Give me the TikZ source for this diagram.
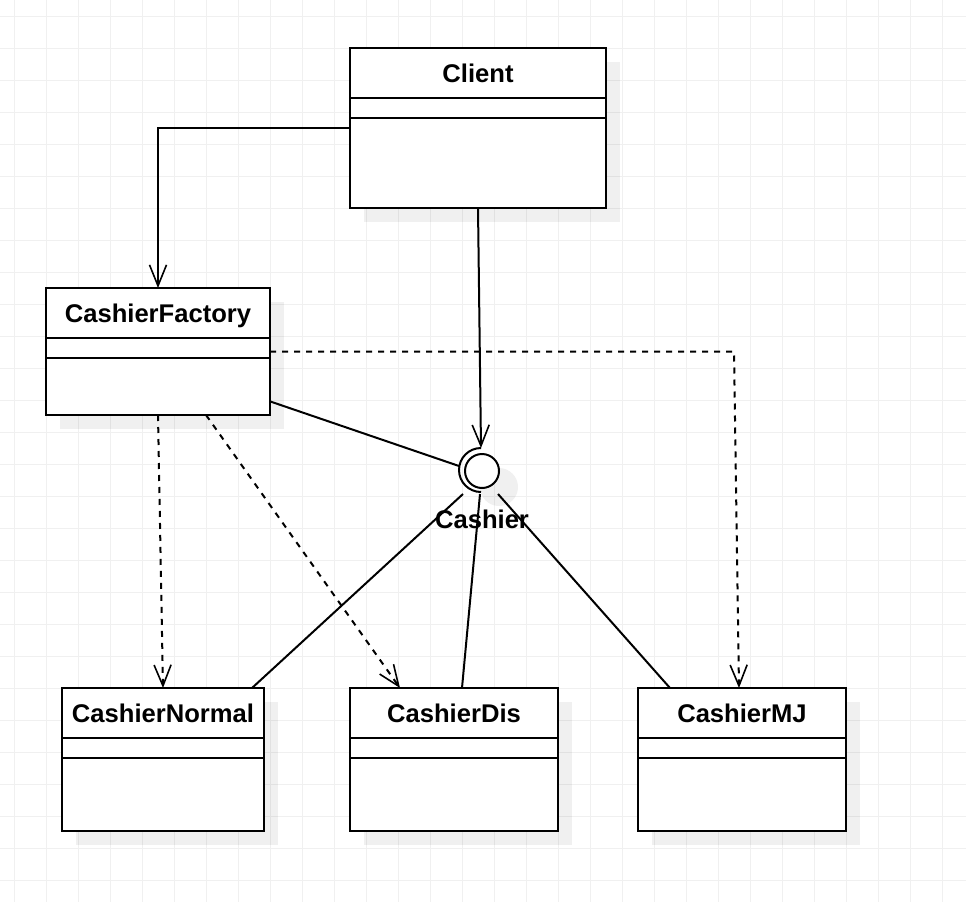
\documentclass[tikz,border=0pt]{standalone}
\usepackage{fontspec}
\setmainfont{Liberation Sans}
\usetikzlibrary{arrows.meta,calc,shadows}

\begin{document}
\begin{tikzpicture}[x=1pt, y=-1pt, line join=miter,
  font=\bfseries\fontsize{25.6}{30}\selectfont,
  gridline/.style={black!6, line width=1pt},
  umlclass/.style={draw, line width=2pt, fill=white, anchor=north west,
    inner sep=0pt, outer sep=0pt,
    general shadow={fill=black, fill opacity=0.06, shadow xshift=14pt, shadow yshift=-14pt}},
  classname/.style={inner sep=0pt, text height=17.5pt, text depth=0pt},
  link/.style={line width=2pt},
  assoc/.style={link, -{Straight Barb[length=21pt, width=17pt, line width=1.6pt]}},
  depend/.style={assoc, dash pattern=on 6pt off 6pt}]
  \useasboundingbox (0,0) rectangle (966,902);
  \fill[white] (0,0) rectangle (966,902);

  % Background grid
  \foreach \gx in {14,46,...,966} \draw[gridline] (\gx,0) -- (\gx,902);
  \foreach \gy in {16,48,...,902} \draw[gridline] (0,\gy) -- (966,\gy);

  % Classes
  \node[umlclass, minimum width=256, minimum height=160] (client)  at (350,48)  {};
  \node[umlclass, minimum width=224, minimum height=127] (factory) at (46,288)  {};
  \node[umlclass, minimum width=202, minimum height=143] (normal)  at (62,688)  {};
  \node[umlclass, minimum width=208, minimum height=143] (dis)     at (350,688) {};
  \node[umlclass, minimum width=208, minimum height=143] (mj)      at (638,688) {};
  \foreach \c in {client,factory,normal,dis,mj} {
    \draw[link] ([yshift=-50pt]\c.north west) -- ([yshift=-50pt]\c.north east);
    \draw[link] ([yshift=-70pt]\c.north west) -- ([yshift=-70pt]\c.north east);
  }
  \node[classname] at ([yshift=-25.5pt]client.north)  {Client};
  \node[classname] at ([yshift=-25.5pt]factory.north) {CashierFactory};
  \node[classname] at ([yshift=-25.5pt]normal.north)  {CashierNormal};
  \node[classname] at ([yshift=-25.5pt]dis.north)     {CashierDis};
  \node[classname] at ([yshift=-25.5pt]mj.north)      {CashierMJ};

  % Interface Cashier
  \fill[black, fill opacity=0.06] (499,487) circle (19);
  \node[circle, draw, link, fill=white, minimum size=34, inner sep=0pt] (cashier) at (482,471) {};
  \coordinate (socket) at (481,448);
  \coordinate (socketleft) at (459,466);
  \draw[link] (socket) arc[start angle=-90, end angle=-270, radius=22];
  \node[classname] (cashierlabel) at (482,520) {Cashier};

  % Associations from Client
  \draw[assoc] (client.west) -| (factory.north);
  \draw[assoc] (client.south) -- (socket);

  % CashierFactory
  \draw[link] (factory.-24) -- (socketleft);
  \coordinate (mjin) at ([xshift=-8pt]mj.north);
  \draw[depend] (factory.east) -- (mjin |- factory.east) -- ([xshift=-3pt]mj.north);
  \draw[depend] (factory.south) -- (normal.north);
  \draw[depend] ([xshift=48pt]factory.south) -- ([xshift=-54pt]dis.north);

  % Implementations of Cashier
  \draw[link] ([shift={(-19,23)}]cashier.center) -- ([xshift=-12pt]normal.north east);
  \draw[link] ([shift={(-2,23)}]cashier.center) -- ([xshift=8pt]dis.north);
  \draw[link] ([shift={(16,23)}]cashier.center) -- ([xshift=32pt]mj.north west);
\end{tikzpicture}
\end{document}
